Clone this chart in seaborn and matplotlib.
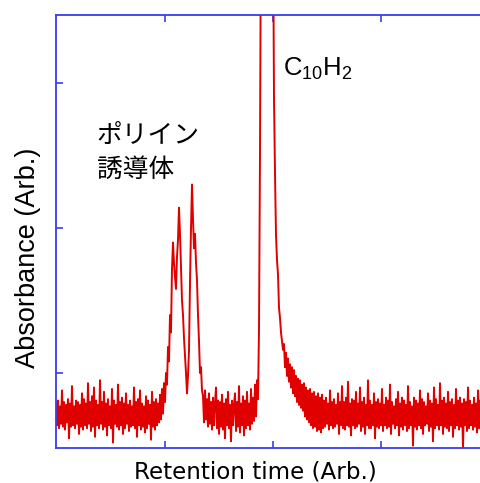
import numpy as np
import pandas as pd
import matplotlib
matplotlib.use("Agg")
import matplotlib.pyplot as plt
import seaborn as sns

# --- data (absorbance in arbitrary units, one sample per time step) ---
baseline_left = [
    79, 64, 81, 62, 77, 65, 88, 63, 80, 61,
    78, 66, 82, 55, 79, 63, 91, 64, 77, 62,
    81, 65, 80, 58, 78, 63, 86, 61, 82, 64,
    79, 62, 93, 65, 80, 60, 84, 63, 90, 56,
    81, 64, 78, 62, 95, 65, 80, 61, 87, 63,
    79, 57, 82, 64, 77, 62, 89, 52, 81, 65,
    78, 63, 92, 61, 80, 64, 83, 58, 79, 62,
    86, 65, 78, 60, 81, 63, 77, 64, 90, 62,
    80, 56, 82, 64, 88, 61, 79, 63, 77, 59,
    84, 62, 81, 65, 78, 54, 87, 63, 80, 61,
    82, 64, 79, 66, 85, 68, 89, 72, 93, 80,
]
polyyne_peaks = [
    100, 92, 118, 108, 140, 128, 172, 190, 176, 166,
    158, 180, 192, 214, 196, 172, 150, 140, 124, 112,
    100, 86, 98, 116, 162, 200, 230, 206, 186, 196,
    176, 164, 140, 122, 100, 104, 88,
]
baseline_mid = [
    84, 66, 88, 68, 82, 63, 86, 65, 80, 61,
    83, 64, 79, 90, 62, 81, 58, 80, 63, 85,
    61, 79, 55, 82, 64, 87, 62, 78, 53, 81,
    64, 78, 86, 60, 80, 63, 91, 59, 79, 64,
    84, 57, 81, 62, 87, 64, 79, 61, 89, 65,
    83, 67, 92, 70, 95, 82,
]
c10h2_peak = [130, 252, 420, 420, 420, 420, 420, 420, 420, 420,
              420, 420, 420, 420, 420]
c10h2_tail = [
    290, 238, 195, 178, 168, 145, 138, 128, 122, 116,
    120, 104, 114, 98, 110, 94, 106, 90, 104, 86,
    102, 84, 98, 80, 96, 78, 95, 76, 92, 74,
    93, 70, 90, 68, 88, 66, 89, 64, 86, 62,
    87, 63, 84, 60, 86, 61, 83, 59, 85, 62,
]
baseline_right = [
    81, 63, 83, 65, 79, 61, 88, 64, 80, 62,
    82, 63, 78, 65, 86, 58, 80, 64, 91, 62,
    80, 61, 83, 64, 94, 63, 79, 57, 82, 64,
    81, 62, 87, 63, 79, 65, 90, 60, 80, 63,
    83, 58, 78, 64, 95, 62, 81, 62, 78, 64,
    86, 55, 80, 63, 82, 62, 79, 64, 89, 60,
    78, 64, 83, 62, 81, 63, 92, 58, 80, 65,
    77, 62, 82, 64, 87, 57, 79, 63, 83, 61,
    81, 64, 78, 60, 91, 62, 80, 64, 77, 50,
    83, 63, 81, 61, 79, 64, 88, 62, 82, 58,
    80, 64, 77, 65, 86, 60, 81, 63, 79, 53,
    90, 62, 82, 64, 78, 61, 93, 64, 81, 58,
    83, 63, 79, 62, 87, 60, 80, 64, 82, 56,
    78, 62, 89, 64, 81, 61, 83, 63, 79, 48,
    82, 64, 80, 60, 90, 62, 81, 64, 78, 61,
    83, 63, 79, 59, 88, 62, 81, 64, 77, 60,
    85, 64, 80, 62, 82, 63,
]
sample_step = 1 / 108.5  # retention time per sample (arb.)

x_ticks = [1, 2, 3]
y_ticks = [100, 200, 300]
x_label = "Retention time (Arb.)"
y_label = "Absorbance (Arb.)"
label_polyyne = "ポリイン\n誘導体"
label_c10h2 = r"C$_{\mathregular{10}}$H$_{\mathregular{2}}$"

absorbance = (baseline_left + polyyne_peaks + baseline_mid + c10h2_peak
              + c10h2_tail + baseline_right)
df = pd.DataFrame({"time": np.arange(len(absorbance)) * sample_step,
                   "absorbance": absorbance})

# --- style ---
sns.set_style("white")
plt.rcParams["font.family"] = ["Liberation Sans", "Noto Sans CJK JP", "DejaVu Sans"]
plt.rcParams["text.color"] = "black"
plt.rcParams["axes.labelcolor"] = "black"
blue = "#3c3cee"
red = "#e00000"

fig = plt.figure(figsize=(4.81, 4.83), dpi=100)
ax = fig.add_axes([56 / 481, 1 - 448 / 483, 434 / 481, 433 / 483])

sns.lineplot(data=df, x="time", y="absorbance", ax=ax, color=red,
             linewidth=1.4, estimator=None, sort=False)

ax.set_xlim(0, 4)
ax.set_ylim(48.3, 346.9)
ax.set_xticks(x_ticks)
ax.set_yticks(y_ticks)
ax.tick_params(direction="in", length=5, width=1.2, color=blue,
               top=True, right=True, bottom=True, left=True,
               labelbottom=False, labelleft=False)
for s in ax.spines.values():
    s.set_color(blue)
    s.set_linewidth(1.3)

ax.set_xlabel(x_label, fontsize=16.6, family=["DejaVu Sans"], color="black")
ax.xaxis.set_label_coords(0.4597, -0.0289)
ax.set_ylabel(y_label, fontsize=19.5, color="black")
ax.yaxis.set_label_coords(-0.0353, 0.4388)

ax.text(0.376, 231, label_polyyne, fontsize=18.5, color="black",
        family=["Noto Sans CJK JP", "DejaVu Sans"], va="bottom", ha="left",
        linespacing=1.4)
ax.text(2.09, 310, label_c10h2, fontsize=18.5, va="center", ha="left",
        color="black")

fig.savefig("out.png", dpi=100)
